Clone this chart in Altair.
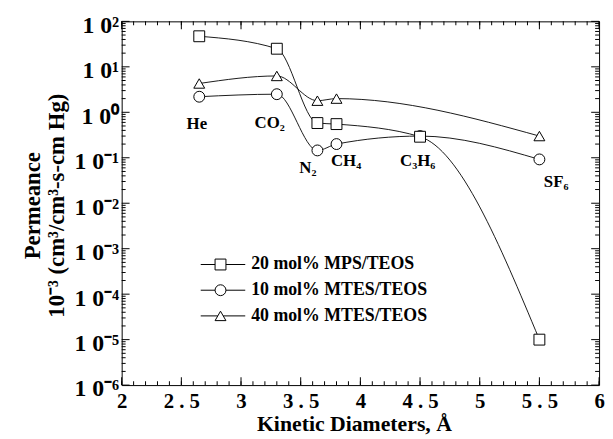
import altair as alt
import pandas as pd
import json

# ---------------- data ----------------
series_names = ["20 mol%  MPS/TEOS", "10 mol%  MTES/TEOS", "40 mol%  MTES/TEOS"]

diam_mps = [2.65, 3.30, 3.64, 3.80, 4.50, 5.50]
perm_mps = [47.0, 25.0, 0.58, 0.55, 0.29, 1.0e-5]

diam_mtes10 = [2.65, 3.30, 3.64, 3.80, 4.50, 5.50]
perm_mtes10 = [2.2, 2.5, 0.145, 0.20, 0.30, 0.092]

diam_mtes40 = [2.65, 3.30, 3.64, 3.80, 5.50]
perm_mtes40 = [4.3, 6.3, 1.8, 2.0, 0.30]

gas_labels = ["He", "CO₂", "N₂", "CH₄", "C₃H₆", "SF₆"]
gas_label_x = [2.63, 3.24, 3.56, 3.88, 4.48, 5.64]
gas_label_y = [0.55, 0.58, 0.060, 0.085, 0.085, 0.029]

x_tick_vals = [2, 2.5, 3, 3.5, 4, 4.5, 5, 5.5, 6]
x_tick_text = ["2", "2 . 5", "3", "3 . 5", "4", "4 . 5", "5", "5 . 5", "6"]
y_tick_vals = [1e-6, 1e-5, 1e-4, 1e-3, 1e-2, 1e-1, 1e0, 1e1, 1e2]
y_tick_text = ["1 0⁻⁶", "1 0⁻⁵", "1 0⁻⁴", "1 0⁻³", "1 0⁻²", "1 0⁻¹", "1 0⁰", "1 0¹", "1 0²"]
x_minor = [round(2 + 0.1 * i, 1) for i in range(41)]
y_minor = [m * 10.0 ** e for e in range(-6, 2) for m in range(2, 10)]

# ---------------- tables ----------------
rows = []
for d, p in zip(diam_mtes10, perm_mtes10):
    rows.append({"series": series_names[1], "d": d, "p": p})
for d, p in zip(diam_mtes40, perm_mtes40):
    rows.append({"series": series_names[2], "d": d, "p": p})
for d, p in zip(diam_mps, perm_mps):
    rows.append({"series": series_names[0], "d": d, "p": p})
df = pd.DataFrame(rows)
labels_df = pd.DataFrame({"t": gas_labels, "x": gas_label_x, "y": gas_label_y})
leg_df = pd.DataFrame({"series": series_names, "d": [1.0] * 3, "p": [1.0] * 3})

FONT = "Liberation Serif"
xs = alt.Scale(domain=[2, 6], nice=False, zero=False)
ys = alt.Scale(type="log", domain=[1e-6, 1e2], nice=False)

x_label_expr = f"{json.dumps(x_tick_text, ensure_ascii=False)}[round((datum.value-2)*2)]"
y_label_expr = f"{json.dumps(y_tick_text, ensure_ascii=False)}[round(log(datum.value)/LN10)+6]"

X_AX = alt.Axis(
    orient="bottom", values=x_tick_vals, labelExpr=x_label_expr, ticks=False, domain=False,
    grid=False, labelFont=FONT, labelFontSize=21, labelFontWeight="bold", labelColor="black",
    labelPadding=6, labelFlush=False, labelOverlap=False,
    title="Kinetic  Diameters,  Å", titleFont=FONT, titleFontSize=22, titleFontWeight="bold",
    titleColor="black", titleX=235, titleY=46, titleBaseline="alphabetic")
Y_AX = alt.Axis(
    orient="left", values=y_tick_vals, labelExpr=y_label_expr, ticks=False, domain=False,
    grid=False, labelFont=FONT, labelFontSize=24, labelFontWeight="bold", labelColor="black",
    labelPadding=3, labelOffset=4, labelOverlap=False, labelFlush=False,
    title=["Permeance", "10⁻³  (cm³/cm³-s-cm  Hg)"], titleFont=FONT, titleFontSize=23,
    titleFontWeight="bold", titleColor="black", titleAngle=270, titleX=-90, titleY=186,
    titleBaseline="middle", titleAlign="center", titleLineHeight=24)

base = alt.Chart(df)

lines = base.mark_line(color="black", strokeWidth=0.9, interpolate="monotone").encode(
    x=alt.X("d:Q", scale=xs, axis=X_AX),
    y=alt.Y("p:Q", scale=ys, axis=Y_AX),
    detail="series:N",
)

points = base.mark_point(size=121, filled=True, fill="white", stroke="black", strokeWidth=1, opacity=1).encode(
    x=alt.X("d:Q", scale=xs, axis=X_AX),
    y=alt.Y("p:Q", scale=ys, axis=Y_AX),
    shape=alt.Shape("series:N", scale=alt.Scale(domain=series_names, range=["square", "circle", "triangle-up"]), legend=None),
)

# legend symbols: a short line with the marker in its middle
leg_paths = [
    "M-3.64,0H-1M1,0H4.55M-1,-1H1V1H-1Z",
    "M-3.64,0H-1M1,0H4.55M1,0A1,1,0,1,1,-1,0A1,1,0,1,1,1,0Z",
    "M-3.64,0H-0.5M0.5,0H4.55M0,-0.866L-1,0.866L1,0.866Z",
]
legend_layer = alt.Chart(leg_df).mark_point(size=121, filled=False, color="black",
                                            strokeWidth=1, opacity=1, clip=True).encode(
    x=alt.X("d:Q", scale=xs, axis=X_AX),
    y=alt.Y("p:Q", scale=ys, axis=Y_AX),
    shape=alt.Shape("series:N", scale=alt.Scale(domain=series_names, range=leg_paths), legend=alt.Legend(
        title=None, orient="none", legendX=91, legendY=237, padding=0,
        symbolSize=121, symbolStrokeColor="black", symbolStrokeWidth=1,
        labelFont=FONT, labelFontSize=18, labelFontWeight="bold", labelColor="black",
        labelOffset=22, rowPadding=8, labelLimit=300)),
)

texts = alt.Chart(labels_df).mark_text(font=FONT, fontSize=17, fontWeight="bold", color="black",
                                       align="center", baseline="middle").encode(
    x=alt.X("x:Q", scale=xs, axis=X_AX),
    y=alt.Y("y:Q", scale=ys, axis=Y_AX),
    text="t:N",
)

def xticks(vals, edge, size, off):
    tdf = pd.DataFrame({"v": vals, "e": [edge] * len(vals)})
    return alt.Chart(tdf).mark_tick(orient="vertical", size=size, thickness=1, color="black",
                                    yOffset=off, opacity=1).encode(
        x=alt.X("v:Q", scale=xs, axis=X_AX), y=alt.Y("e:Q", scale=ys, axis=Y_AX))

def yticks(vals, edge, size, off):
    tdf = pd.DataFrame({"v": vals, "e": [edge] * len(vals)})
    return alt.Chart(tdf).mark_tick(orient="horizontal", size=size, thickness=1, color="black",
                                    xOffset=off, opacity=1).encode(
        y=alt.Y("v:Q", scale=ys, axis=Y_AX), x=alt.X("e:Q", scale=xs, axis=X_AX))

ticks = [
    xticks(x_minor, 1e-6, 4, -2), xticks(x_tick_vals, 1e-6, 8, -4),
    xticks(x_minor, 1e2, 4, 2), xticks(x_tick_vals, 1e2, 8, 4),
    yticks(y_minor, 2, 4, 2), yticks(y_tick_vals, 2, 8, 4),
    yticks(y_minor, 6, 4, -2), yticks(y_tick_vals, 6, 8, -4),
]

chart = alt.layer(lines, *ticks, points, texts, legend_layer).resolve_scale(
    shape="independent"
).properties(
    width=483, height=368,
    autosize=alt.AutoSizeParams(type="none"),
    padding={"left": 115, "top": 11, "right": 6, "bottom": 50},
).configure_view(stroke="black", strokeWidth=1)

chart.save("out.html", embed_options={"renderer": "svg", "actions": False})
